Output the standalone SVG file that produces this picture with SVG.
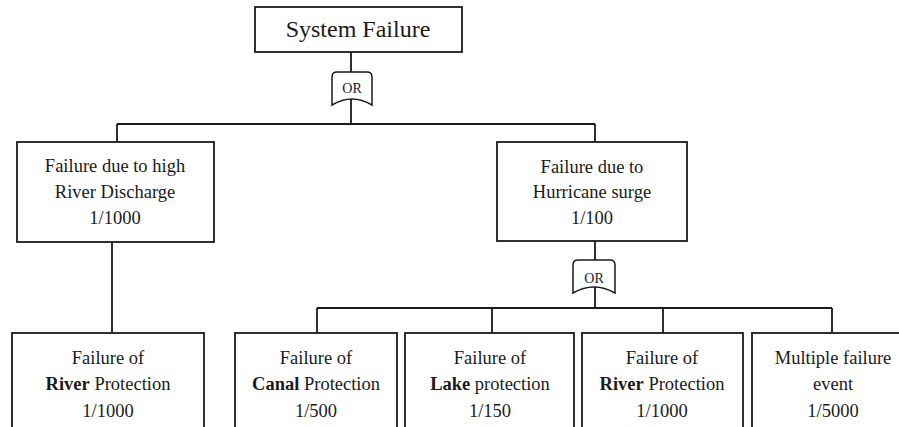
<svg xmlns="http://www.w3.org/2000/svg" width="899" height="427" viewBox="0 0 899 427">
<style>
.box{fill:#fff;stroke:#1a1a1a;stroke-width:1.8}
.gate{fill:#fff;stroke:#1a1a1a;stroke-width:1.5}
.con{fill:none;stroke:#1a1a1a;stroke-width:1.8}
text{font-family:"Liberation Serif","Times New Roman",serif;fill:#1a1a1a;text-anchor:middle}
.t{font-size:18.5px}
.g{font-size:14px}
.b{font-weight:bold}
</style>
<rect width="899" height="427" fill="#fff"/>
<g id="connectors">
<path class="con" d="M351 52V124M117 124H595M117 124V142M595 124V142"/>
<path class="con" d="M112 242V333"/>
<path class="con" d="M595 241V308M317 308H832M317 308V333M492 308V333M663 308V333M832 308V333"/>
</g>
<g id="system-failure">
<rect class="box" x="255" y="7" width="207" height="45"/>
<text x="358" y="37" style="font-size:24px">System Failure</text>
</g>
<g id="gate-or-1">
<path class="gate" d="M332 105V77Q332 72 337 72H367Q372 72 372 77V105Q352 93 332 105Z"/>
<text class="g" x="352" y="93">OR</text>
</g>
<g id="river-discharge">
<rect class="box" x="17" y="142" width="197" height="100"/>
<text class="t" x="115" y="172">Failure due to high</text>
<text class="t" x="115" y="198">River Discharge</text>
<text class="t" x="115" y="224">1/1000</text>
</g>
<g id="hurricane-surge">
<rect class="box" x="497" y="142" width="190" height="99"/>
<text class="t" x="592" y="173">Failure due to</text>
<text class="t" x="592" y="198">Hurricane surge</text>
<text class="t" x="592" y="224">1/100</text>
</g>
<g id="gate-or-2">
<path class="gate" d="M573 293V265Q573 260 578 260H610Q615 260 615 265V293Q594 281 573 293Z"/>
<text class="g" x="594" y="283">OR</text>
</g>
<g id="river-protection-1">
<rect class="box" x="12" y="333" width="192" height="110"/>
<text class="t" x="108" y="364">Failure of</text>
<text class="t" x="108" y="390"><tspan class="b">River</tspan> Protection</text>
<text class="t" x="108" y="417">1/1000</text>
</g>
<g id="canal-protection">
<rect class="box" x="235" y="333" width="162" height="110"/>
<text class="t" x="316" y="364">Failure of</text>
<text class="t" x="316" y="390"><tspan class="b">Canal</tspan> Protection</text>
<text class="t" x="316" y="417">1/500</text>
</g>
<g id="lake-protection">
<rect class="box" x="405" y="333" width="169" height="110"/>
<text class="t" x="490" y="364">Failure of</text>
<text class="t" x="490" y="390"><tspan class="b">Lake</tspan> protection</text>
<text class="t" x="490" y="417">1/150</text>
</g>
<g id="river-protection-2">
<rect class="box" x="582" y="333" width="161" height="110"/>
<text class="t" x="662" y="364">Failure of</text>
<text class="t" x="662" y="390"><tspan class="b">River</tspan> Protection</text>
<text class="t" x="662" y="417">1/1000</text>
</g>
<g id="multiple-failure">
<rect class="box" x="752" y="333" width="162" height="110"/>
<text class="t" x="833" y="364">Multiple failure</text>
<text class="t" x="833" y="390">event</text>
<text class="t" x="833" y="417">1/5000</text>
</g>
</svg>
